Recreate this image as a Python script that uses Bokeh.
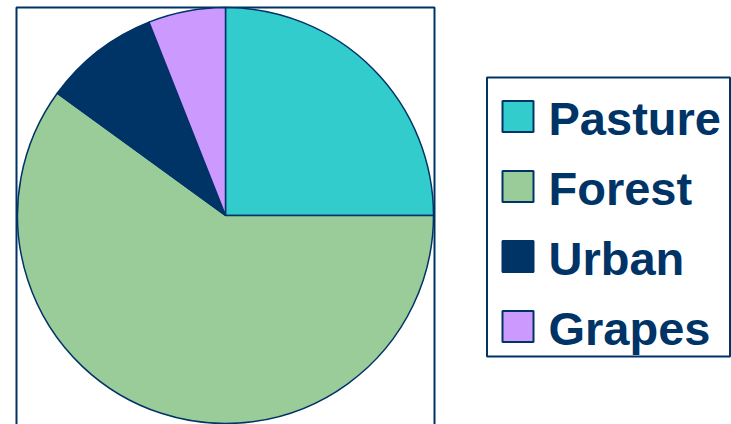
import numpy as np
from bokeh.plotting import figure
from bokeh.models import ColumnDataSource, Range1d
from bokeh.core.properties import value
from bokeh.embed import file_html
from bokeh.resources import INLINE

categories = ["Pasture", "Forest", "Urban", "Grapes"]
shares = [25, 60, 9, 6]
palette = ["#33CCCC", "#99CC99", "#003366", "#CC99FF"]
navy = "#003366"

W, H = 731, 424
p = figure(width=W, height=H, output_backend="svg", toolbar_location=None,
           x_range=Range1d(0, W), y_range=Range1d(0, H),
           min_border=0, outline_line_color=None)
p.axis.visible = False
p.grid.visible = False
p.background_fill_color = "white"
p.border_fill_color = "white"

vals = np.array(shares, dtype=float)
frac = vals / vals.sum() * 2 * np.pi
cum_end = np.cumsum(frac)
cum_start = cum_end - frac
src = ColumnDataSource(dict(
    cat=categories,
    start=np.pi / 2 - cum_start,
    end=np.pi / 2 - cum_end,
    color=palette,
))

# frame around the pie
p.quad(left=16, right=434, top=417, bottom=-20, fill_color=None,
       line_color=navy, line_width=2)

cx, cy, r = 225, 209, 208
p.wedge(x=cx, y=cy, radius=r, start_angle="start", end_angle="end",
        direction="clock", fill_color="color", line_color=navy,
        line_width=1.5, source=src)

# legend
p.quad(left=486.5, right=729.5, top=347, bottom=68, fill_color="white",
       line_color=navy, line_width=2)
rows = np.arange(len(categories))
leg_y = 308 - 70 * rows
lsrc = ColumnDataSource(dict(cat=categories, color=palette, y=leg_y,
                             ty=leg_y - 1.5, x=[517.5] * len(categories),
                             tx=[548] * len(categories)))
p.rect(x="x", y="y", width=31, height=31, fill_color="color",
       line_color=navy, line_width=2, source=lsrc)
p.text(x="tx", y="ty", text="cat", text_font=value("Liberation Sans"),
       text_font_style="bold", text_font_size="47px", text_color=navy,
       text_baseline="alphabetic", text_align="left", source=lsrc)

open("out.html", "w").write(file_html(p, INLINE))
